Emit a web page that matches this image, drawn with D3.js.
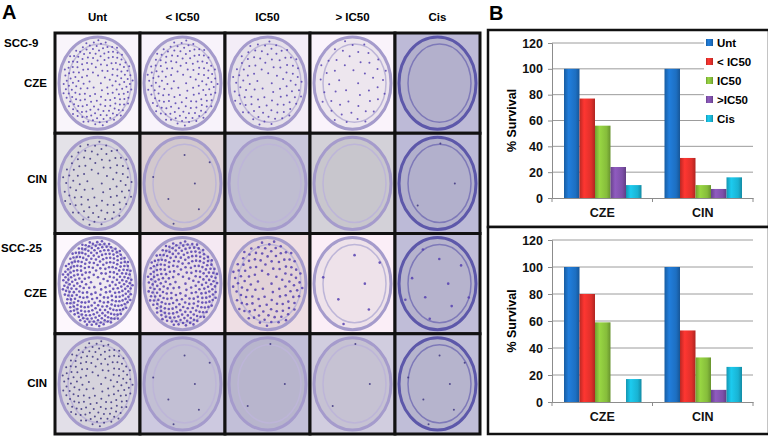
<!DOCTYPE html>
<html>
<head>
<meta charset="utf-8">
<script src="https://cdn.jsdelivr.net/npm/d3@7"></script>
<style>
  body { margin: 0; background: #fff; }
  text { font-family: Arial, "Liberation Sans", sans-serif; font-weight: bold; }
</style>
</head>
<body>
<svg id="fig" width="768" height="439"></svg>
<script>
// ---- panel A: colony plates ----
const treatments = ['Unt', '< IC50', 'IC50', '> IC50', 'Cis']
const plateRows = ['SCC-9 CZE', 'SCC-9 CIN', 'SCC-25 CZE', 'SCC-25 CIN']
// relative colony density (0 = none)
const colonyDensity = [
  [0.55, 0.45, 0.30, 0.15, 0.00],
  [0.30, 0.02, 0.00, 0.00, 0.01],
  [0.90, 0.75, 0.35, 0.02, 0.03],
  [0.45, 0.02, 0.01, 0.01, 0.02]
]
// dish tint of each photo
const plateTint = [
  ['#ece8ee', '#ebe6ee', '#e6e1ea', '#ede6ee', '#b3b0cc'],
  ['#d8d6dc', '#d2c8cd', '#bfbdd1', '#c8c6cd', '#b2b0cc'],
  ['#f0eaf0', '#e8dde6', '#e2d2d8', '#eee2ea', '#b6b3cd'],
  ['#d6d3dc', '#c2bfd4', '#b8b5cd', '#c6c2d3', '#b6b4cd']
]

// ---- panel B: % survival ----
const categories = ['CZE', 'CIN']
const series = ['Unt', '< IC50', 'IC50', '>IC50', 'Cis']
const seriesColors = ['#1d6fc2', '#e0302b', '#86bd3b', '#7e50a9', '#19b3d3']
const scc9Values = [
  [100, 77, 56, 24, 10],
  [100, 31, 10, 7, 16]
]
const scc25Values = [
  [100, 80, 59, 0, 17],
  [100, 53, 33, 9, 26]
]
const yTicks = [0, 20, 40, 60, 80, 100, 120]

const svg = d3.select('#fig')
const defs = svg.append('defs')

// bar gradients, Excel 2007 look
seriesColors.forEach((c, i) => {
  const gr = defs.append('linearGradient').attr('id', 'bar' + i)
    .attr('x1', 0).attr('x2', 1).attr('y1', 0).attr('y2', 0)
  const base = d3.color(c)
  gr.append('stop').attr('offset', '0%').attr('stop-color', base.darker(0.5))
  gr.append('stop').attr('offset', '30%').attr('stop-color', base.brighter(0.35))
  gr.append('stop').attr('offset', '75%').attr('stop-color', base)
  gr.append('stop').attr('offset', '100%').attr('stop-color', base.darker(0.7))
})

// ---------- panel A ----------
const colX = d3.scaleBand().domain(d3.range(treatments.length)).range([55, 480])
const rowY = d3.scaleBand().domain(d3.range(plateRows.length)).range([33, 434])

svg.append('text').attr('x', 2).attr('y', 19).style('font-size', '20px').text('A')

svg.selectAll('.colhead').data(treatments).join('text')
  .attr('class', 'colhead')
  .attr('x', (d, i) => colX(i) + colX.bandwidth() / 2)
  .attr('y', 21)
  .attr('text-anchor', 'middle')
  .style('font-size', '11.5px')
  .text(d => d)

const rowLabels = [
  { t: 'SCC-9', r: 0, dy: 14, anchor: 'start' },
  { t: 'CZE', r: 0, dy: 54, anchor: 'end' },
  { t: 'CIN', r: 1, dy: 50, anchor: 'end' },
  { t: 'SCC-25', r: 2, dy: 18, anchor: 'start' },
  { t: 'CZE', r: 2, dy: 63, anchor: 'end' },
  { t: 'CIN', r: 3, dy: 53, anchor: 'end' }
]
svg.selectAll('.rowhead').data(rowLabels).join('text')
  .attr('class', 'rowhead')
  .attr('x', d => d.anchor === 'end' ? 47 : (d.t === 'SCC-25' ? 1 : 4))
  .attr('y', d => rowY(d.r) + d.dy)
  .attr('text-anchor', d => d.anchor)
  .style('font-size', '11.5px')
  .text(d => d.t)

const cells = []
plateRows.forEach((_, r) => treatments.forEach((_, c) => cells.push({ r, c })))

const cellG = svg.selectAll('.cell').data(cells).join('g')
  .attr('class', 'cell')
  .attr('transform', d => `translate(${colX(d.c)},${rowY(d.r)})`)

const cw = colX.bandwidth()
const ch = rowY.bandwidth()

cellG.append('rect')
  .attr('width', cw).attr('height', ch)
  .attr('fill', d => d3.color(plateTint[d.r][d.c]).brighter(0.15))

// dish wall
cellG.append('ellipse')
  .attr('cx', cw / 2).attr('cy', ch / 2)
  .attr('rx', cw / 2 - 4).attr('ry', ch / 2 - 4)
  .attr('fill', d => plateTint[d.r][d.c])
  .attr('stroke', d => d.c === 4 ? '#5d58aa' : '#a59bcc')
  .attr('stroke-width', 3)
// inner ring
cellG.append('ellipse')
  .attr('cx', cw / 2 + 2).attr('cy', ch / 2)
  .attr('rx', cw / 2 - 11).attr('ry', ch / 2 - 11)
  .attr('fill', 'none')
  .attr('stroke', d => d.c === 4 ? '#7e79b8' : '#bdb5d8')
  .attr('stroke-width', 1.5)

// colonies laid out on a sunflower pattern, count set by density,
// pushed outwards the way they gather near the dish wall
const golden = Math.PI * (3 - Math.sqrt(5))
cellG.each(function (d) {
  const n = Math.round(colonyDensity[d.r][d.c] * 330)
  if (!n) return
  const pts = d3.range(n).map(i => {
    const f = Math.pow((i + 0.5) / n, 0.4)
    const a = i * golden
    return [cw / 2 + Math.cos(a) * f * (cw / 2 - 7), ch / 2 + Math.sin(a) * f * (ch / 2 - 7)]
  })
  d3.select(this).selectAll('circle').data(pts).join('circle')
    .attr('cx', p => p[0]).attr('cy', p => p[1])
    .attr('r', d.r === 2 ? 1.3 : 1)
    .attr('fill', d.r % 2 ? '#3d3580' : '#5540b0')
    .attr('opacity', 0.85)
})

cellG.append('rect')
  .attr('width', cw).attr('height', ch)
  .attr('fill', 'none').attr('stroke', '#111').attr('stroke-width', 3)

// ---------- panel B ----------
svg.append('text').attr('x', 489).attr('y', 20).style('font-size', '20px').text('B')

const x0 = d3.scaleBand().domain(categories).range([552, 753])
const x1 = d3.scaleBand().domain(series).range([12, x0.bandwidth() - 11])

function drawChart (box, top, zeroY, values, legend) {
  const g = svg.append('g')
  g.append('rect')
    .attr('x', box[0]).attr('y', box[1]).attr('width', box[2]).attr('height', box[3])
    .attr('fill', '#fff').attr('stroke', '#111').attr('stroke-width', 2.5)

  const y = d3.scaleLinear().domain([0, 120]).range([zeroY, top])

  g.append('g').selectAll('line').data(yTicks.slice(1)).join('line')
    .attr('x1', 552).attr('x2', 753)
    .attr('y1', d => y(d)).attr('y2', d => y(d))
    .attr('stroke', '#9c9c9c').attr('stroke-width', 1)

  const yAxis = g.append('g').attr('transform', 'translate(552,0)')
    .call(d3.axisLeft(y).tickValues(yTicks).tickSize(4).tickPadding(5))
  yAxis.select('.domain').attr('stroke', '#8c8c8c')
  yAxis.selectAll('.tick line').attr('stroke', '#8c8c8c')
  yAxis.selectAll('text').style('font-size', '12.5px').style('font-weight', 'bold')
    .style('font-family', 'Arial, "Liberation Sans", sans-serif').attr('fill', '#111')

  const xAxis = g.append('g').attr('transform', `translate(0,${zeroY})`)
    .call(d3.axisBottom(x0).tickSize(0).tickPadding(10))
  xAxis.select('.domain').attr('stroke', '#8c8c8c')
  xAxis.selectAll('text').style('font-size', '12.5px').style('font-weight', 'bold')
    .style('font-family', 'Arial, "Liberation Sans", sans-serif').attr('fill', '#111')
  g.selectAll('.xtick').data([552, 552 + x0.bandwidth(), 753]).join('line')
    .attr('x1', d => d).attr('x2', d => d)
    .attr('y1', zeroY).attr('y2', zeroY + 4)
    .attr('stroke', '#8c8c8c')

  g.append('text')
    .attr('transform', `translate(516,${(zeroY + top) / 2}) rotate(-90)`)
    .attr('text-anchor', 'middle')
    .style('font-size', '12.5px')
    .text('% Survival')

  const grp = g.selectAll('.grp').data(categories).join('g')
    .attr('class', 'grp')
    .attr('transform', d => `translate(${x0(d)},0)`)
  grp.selectAll('rect').data((d, i) => values[i].map((v, j) => ({ v, j })))
    .join('rect')
    .attr('x', d => x1(series[d.j]))
    .attr('width', x1.bandwidth())
    .attr('y', d => y(d.v))
    .attr('height', d => zeroY - y(d.v))
    .attr('fill', d => `url(#bar${d.j})`)

  if (legend) {
    const lg = g.append('g')
    lg.append('rect').attr('x', 704).attr('y', 34).attr('width', 58).attr('height', 92).attr('fill', '#fff')
    const item = lg.selectAll('.item').data(series).join('g')
      .attr('class', 'item')
      .attr('transform', (d, i) => `translate(706,${43 + i * 19})`)
    item.append('rect').attr('x', 0).attr('y', -4).attr('width', 7).attr('height', 7)
      .attr('fill', (d, i) => `url(#bar${i})`)
    item.append('text').attr('x', 11).attr('y', 4).style('font-size', '11.5px')
      .text((d, i) => i === 4 ? ' Cis' : d)
  }
}

drawChart([488, 30, 281, 197], 43, 198, scc9Values, true)
drawChart([488, 227, 281, 207], 240, 402, scc25Values, false)
</script>
</body>
</html>
